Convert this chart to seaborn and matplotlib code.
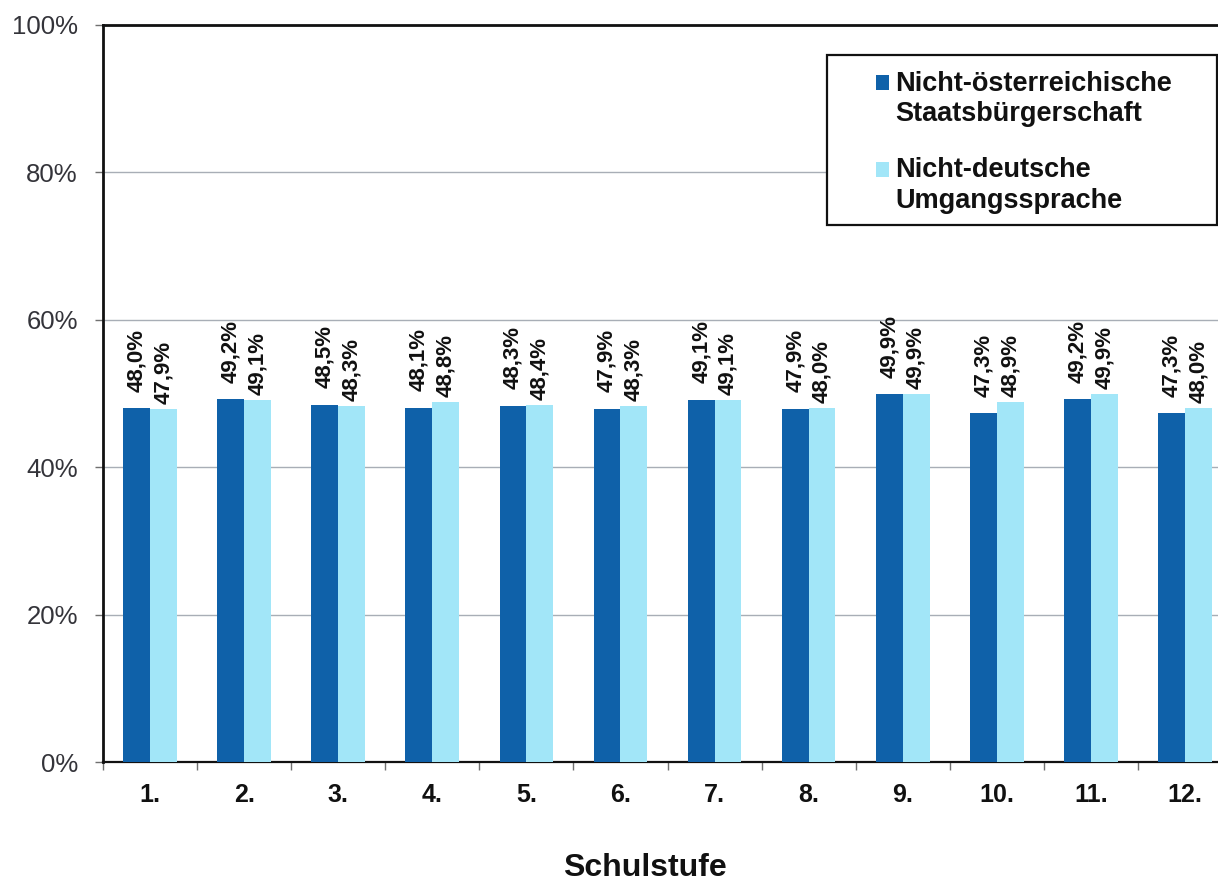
import matplotlib
matplotlib.use("Agg")
import matplotlib.pyplot as plt
from matplotlib.patches import Patch, Rectangle
from matplotlib.font_manager import FontProperties
import seaborn as sns
import pandas as pd

# Data
grades = ["1.", "2.", "3.", "4.", "5.", "6.", "7.", "8.", "9.", "10.", "11.", "12."]
citizenship = [48.0, 49.2, 48.5, 48.1, 48.3, 47.9, 49.1, 47.9, 49.9, 47.3, 49.2, 47.3]
language = [47.9, 49.1, 48.3, 48.8, 48.4, 48.3, 49.1, 48.0, 49.9, 48.9, 49.9, 48.0]
series_names = ["Nicht-österreichische\nStaatsbürgerschaft",
                "Nicht-deutsche\nUmgangssprache"]
y_ticks = [0, 20, 40, 60, 80, 100]

colors = ["#0F61A9", "#A2E6F8"]

df = pd.DataFrame({
    "Schulstufe": grades * 2,
    "Anteil": citizenship + language,
    "Gruppe": [series_names[0]] * len(grades) + [series_names[1]] * len(grades),
})

sns.set_theme(style="white")
plt.rcParams["font.family"] = ["Liberation Sans", "DejaVu Sans"]

W, H = 1218, 884
fig = plt.figure(figsize=(W / 100, H / 100), dpi=100)
# plot area: left spine at x=103, 0% at y=762, 100% at y=25, 94 px per category
ax = fig.add_axes([103 / W, (H - 762) / H, 1129 / W, 737 / H])

sns.barplot(data=df, x="Schulstufe", y="Anteil", hue="Gruppe",
            palette=colors, saturation=1, width=0.57, dodge=True,
            legend=False, ax=ax, errorbar=None, zorder=3, linewidth=0)

ax.set_xlim(-0.5, len(grades) - 0.5)
ax.set_ylim(0, 100)
ax.set_yticks(y_ticks)
ax.set_yticklabels([f"{t}%" for t in y_ticks], fontsize=18.5, color="#34343a")
ax.set_xticks(range(len(grades)))
ax.set_xticklabels(grades, fontsize=18, fontweight="bold", color="#111111")
ax.set_xticks([i - 0.5 for i in range(len(grades) + 1)], minor=True)
ax.tick_params(axis="x", which="major", length=0, pad=15)
ax.tick_params(axis="x", which="minor", length=6, width=1, color="#707070",
               direction="out", bottom=True)
ax.tick_params(axis="y", which="major", length=6, width=1, color="#707070",
               direction="out", left=True, pad=12)
ax.set_xlabel("")
ax.set_ylabel("")

ax.yaxis.grid(True, color="#A8AEB6", linewidth=1)
ax.set_axisbelow(True)

for side in ["left", "top", "bottom"]:
    ax.spines[side].set_visible(True)
    ax.spines[side].set_color("#111111")
ax.spines["left"].set_linewidth(2.0)
ax.spines["top"].set_linewidth(2.0)
ax.spines["bottom"].set_linewidth(1.6)
ax.spines["right"].set_visible(False)

# value labels (the darker series sits a little higher)
for container, pad in zip(ax.containers, [12, 3.5]):
    vals = [b.get_height() for b in container]
    ax.bar_label(container, labels=[f"{v:.1f}%".replace(".", ",") for v in vals],
                 rotation=90, padding=pad, fontsize=16, fontweight="bold",
                 color="#111111")

fig.text(645 / W, 1 - 868 / H, "Schulstufe", ha="center", va="center",
         fontsize=23, fontweight="bold", color="#111111")

# legend box
fig.add_artist(Rectangle((827 / W, 1 - 225 / H), 390 / W, 170 / H,
                         transform=fig.transFigure, facecolor="white",
                         edgecolor="#111111", linewidth=1.6))
handles = [Patch(facecolor=c, edgecolor="none") for c in colors]
leg = fig.legend(handles, series_names, loc="upper left",
                 bbox_to_anchor=(876 / W, 1 - 71 / H), frameon=False,
                 handlelength=0.48, handleheight=0.48, handletextpad=0.22,
                 labelspacing=1.1, borderpad=0, borderaxespad=0,
                 prop=FontProperties(family="Liberation Sans", weight="bold", size=19.5))
for t in leg.get_texts():
    t.set_color("#111111")
    t.set_linespacing(1.22)
for h in leg.legend_handles:
    h.set_y(h.get_y() + 12)

fig.savefig("out.png", dpi=100, facecolor="white")
